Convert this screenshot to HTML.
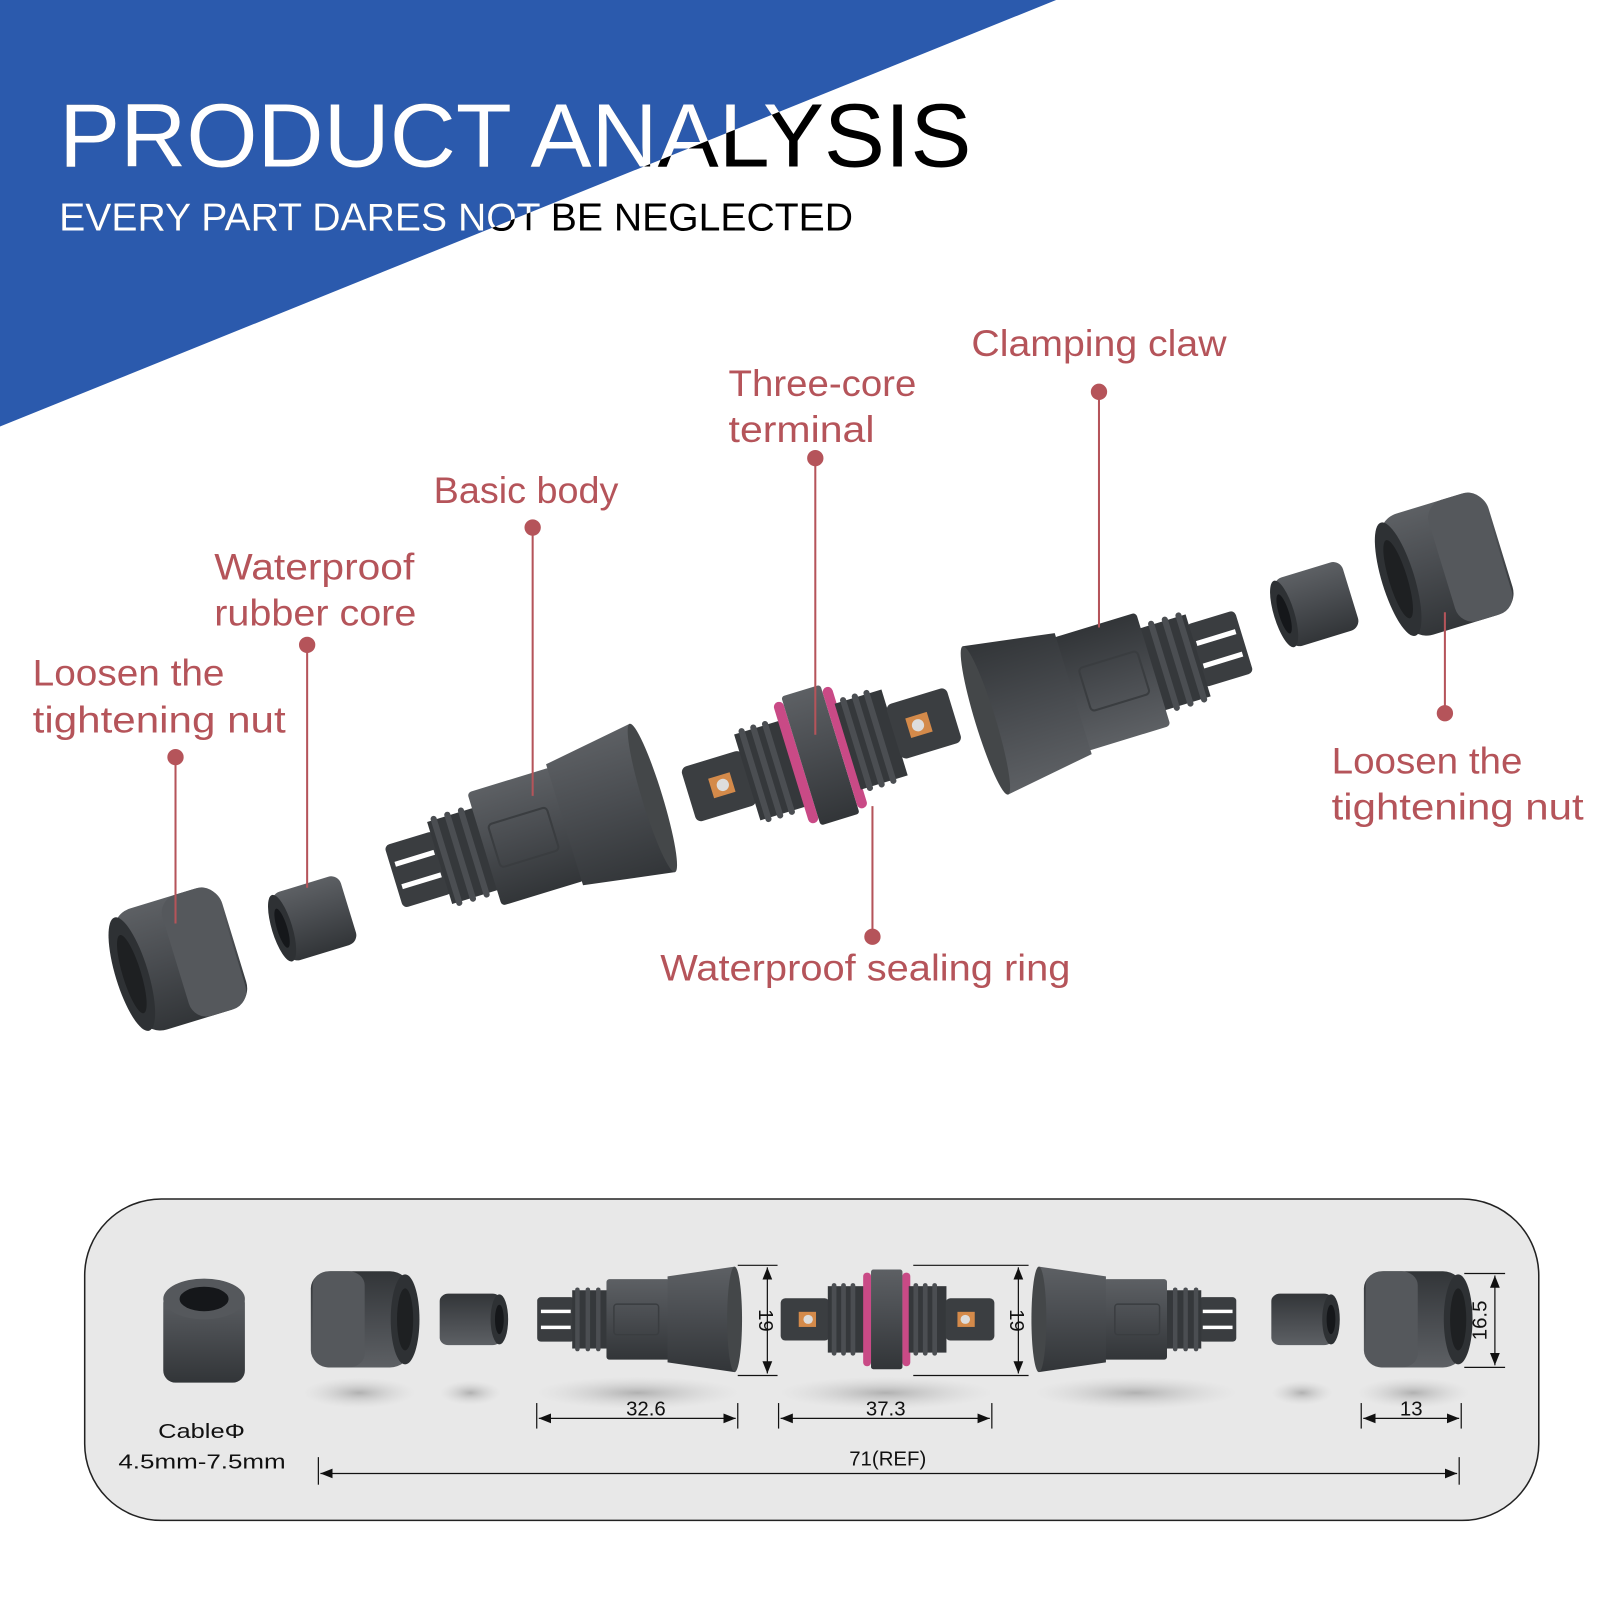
<!DOCTYPE html>
<html><head><meta charset="utf-8"><style>
html,body{margin:0;padding:0;background:#fff}
svg{display:block}
.lab{font-family:"Liberation Sans",sans-serif;font-size:36px;fill:#b5545a}
.dim{font-family:"Liberation Sans",sans-serif;font-size:20px;fill:#111}
</style></head><body>
<svg width="1600" height="1600" viewBox="0 0 1568 1568" xmlns="http://www.w3.org/2000/svg">
<defs>
<clipPath id="tri"><polygon points="0,0 1035,0 0,418"/></clipPath>
<linearGradient id="g" x1="0" y1="0" x2="0" y2="1"><stop offset="0" stop-color="#5d6064"/><stop offset="0.45" stop-color="#4a4d51"/><stop offset="1" stop-color="#323538"/></linearGradient>
<radialGradient id="sh"><stop offset="0" stop-color="#999" stop-opacity="0.7"/><stop offset="1" stop-color="#ccc" stop-opacity="0"/></radialGradient>
<marker id="ar" viewBox="0 0 10 10" refX="10" refY="5" markerWidth="10" markerHeight="10" orient="auto-start-reverse"><path d="M0,1 L10,5 L0,9 z" fill="#111"/></marker>
<g id="nut"><rect x="-55" y="-62" width="110" height="124" rx="22" fill="url(#g)"/><rect x="-5" y="-62" width="58" height="124" rx="18" fill="#55585c"/><ellipse cx="-50" cy="0" rx="16" ry="58" fill="#2e3134"/><ellipse cx="-50" cy="0" rx="9" ry="40" fill="#1e2022"/></g>
<g id="core"><rect x="-35" y="-35" width="70" height="70" rx="10" fill="url(#g)"/><ellipse cx="-33" cy="0" rx="10" ry="34" fill="#2e3134"/><ellipse cx="-33" cy="0" rx="5" ry="20" fill="#15171a"/></g>
<g id="body">
<rect x="-135" y="-32" width="50" height="64" rx="5" fill="#3a3d40"/>
<rect x="-130" y="-14" width="40" height="5" fill="#fff"/><rect x="-130" y="9" width="40" height="5" fill="#fff"/>
<rect x="-88" y="-42" width="48" height="84" fill="#35383b"/>
<rect x="-84" y="-46" width="6" height="92" rx="3" fill="#4b4e52"/><rect x="-70" y="-46" width="6" height="92" rx="3" fill="#4b4e52"/><rect x="-56" y="-46" width="6" height="92" rx="3" fill="#4b4e52"/>
<rect x="-42" y="-58" width="85" height="116" rx="4" fill="url(#g)"/>
<rect x="-32" y="-22" width="60" height="44" rx="4" fill="none" stroke="#3a3d40" stroke-width="2"/>
<path d="M40,-62 L130,-76 L130,76 L40,62 z" fill="url(#g)"/>
<ellipse cx="130" cy="0" rx="10" ry="76" fill="#444749"/>
</g>
<g id="term">
<rect x="-135" y="-28" width="62" height="56" rx="6" fill="#3b3e41"/>
<rect x="-112" y="-10" width="22" height="20" fill="#d48a4a"/><circle cx="-100" cy="0" r="6" fill="#ddd"/>
<rect x="-75" y="-44" width="48" height="88" fill="#35383b"/>
<rect x="-70" y="-48" width="6" height="96" rx="3" fill="#4b4e52"/><rect x="-58" y="-48" width="6" height="96" rx="3" fill="#4b4e52"/><rect x="-46" y="-48" width="6" height="96" rx="3" fill="#4b4e52"/>
<rect x="-30" y="-62" width="10" height="124" rx="5" fill="#c94a86"/>
<rect x="-20" y="-66" width="40" height="132" rx="3" fill="url(#g)"/>
<rect x="20" y="-62" width="10" height="124" rx="5" fill="#c94a86"/>
<rect x="28" y="-44" width="48" height="88" fill="#35383b"/>
<rect x="34" y="-48" width="6" height="96" rx="3" fill="#4b4e52"/><rect x="46" y="-48" width="6" height="96" rx="3" fill="#4b4e52"/><rect x="58" y="-48" width="6" height="96" rx="3" fill="#4b4e52"/>
<rect x="75" y="-28" width="62" height="56" rx="6" fill="#3b3e41"/>
<rect x="90" y="-10" width="22" height="20" fill="#d48a4a"/><circle cx="100" cy="0" r="6" fill="#ddd"/>
</g>
</defs>

<polygon points="0,0 1035,0 0,418" fill="#2b5aad"/>
<g font-family="Liberation Sans,sans-serif">
<text x="58" y="163" font-size="88" textLength="894" lengthAdjust="spacingAndGlyphs" fill="#000">PRODUCT ANALYSIS</text>
<text x="58" y="226" font-size="38" textLength="778" lengthAdjust="spacingAndGlyphs" fill="#000">EVERY PART DARES NOT BE NEGLECTED</text>
<g clip-path="url(#tri)" fill="#fff">
<text x="58" y="163" font-size="88" textLength="894" lengthAdjust="spacingAndGlyphs">PRODUCT ANALYSIS</text>
<text x="58" y="226" font-size="38" textLength="778" lengthAdjust="spacingAndGlyphs">EVERY PART DARES NOT BE NEGLECTED</text>
</g></g>

<use href="#nut" transform="translate(177,940) rotate(-17)"/>
<use href="#core" transform="translate(308,900) rotate(-17)"/>
<use href="#body" transform="translate(515,820) rotate(-17)"/>
<use href="#term" transform="translate(804,740) rotate(-17)"/>
<use href="#body" transform="translate(1090,668) rotate(163)"/>
<use href="#core" transform="translate(1290,592) rotate(-17)"/>
<use href="#nut" transform="translate(1418,553) rotate(-17)"/>

<g stroke="#b5545a" stroke-width="2">
<line x1="172" y1="742" x2="172" y2="905"/><line x1="301" y1="632" x2="301" y2="870"/>
<line x1="522" y1="517" x2="522" y2="780"/><line x1="799" y1="449" x2="799" y2="720"/>
<line x1="1077" y1="384" x2="1077" y2="615"/><line x1="1416" y1="699" x2="1416" y2="600"/>
<line x1="855" y1="918" x2="855" y2="790"/>
</g>
<g fill="#b5545a">
<circle cx="172" cy="742" r="8"/><circle cx="301" cy="632" r="8"/><circle cx="522" cy="517" r="8"/>
<circle cx="799" cy="449" r="8"/><circle cx="1077" cy="384" r="8"/><circle cx="1416" cy="699" r="8"/><circle cx="855" cy="918" r="8"/>
</g>
<g lengthAdjust="spacingAndGlyphs">
<text class="lab" x="32" y="672" textLength="188" lengthAdjust="spacingAndGlyphs">Loosen the</text><text class="lab" x="32" y="718" textLength="248" lengthAdjust="spacingAndGlyphs">tightening nut</text>
<text class="lab" x="210" y="568" textLength="196" lengthAdjust="spacingAndGlyphs">Waterproof</text><text class="lab" x="210" y="613" textLength="198" lengthAdjust="spacingAndGlyphs">rubber core</text>
<text class="lab" x="425" y="493" textLength="181" lengthAdjust="spacingAndGlyphs">Basic body</text>
<text class="lab" x="714" y="388" textLength="184" lengthAdjust="spacingAndGlyphs">Three-core</text><text class="lab" x="714" y="433" textLength="143" lengthAdjust="spacingAndGlyphs">terminal</text>
<text class="lab" x="952" y="349" textLength="250" lengthAdjust="spacingAndGlyphs">Clamping claw</text>
<text class="lab" x="1305" y="758" textLength="187" lengthAdjust="spacingAndGlyphs">Loosen the</text><text class="lab" x="1305" y="803" textLength="247" lengthAdjust="spacingAndGlyphs">tightening nut</text>
<text class="lab" x="647" y="961" textLength="402" lengthAdjust="spacingAndGlyphs">Waterproof sealing ring</text>
</g>

<rect x="83" y="1175" width="1425" height="315" rx="75" fill="#e8e8e8" stroke="#222" stroke-width="1.5"/>
<g>
<ellipse cx="352" cy="1365" rx="55" ry="15" fill="url(#sh)"/><ellipse cx="461" cy="1365" rx="30" ry="12" fill="url(#sh)"/>
<ellipse cx="625" cy="1365" rx="100" ry="16" fill="url(#sh)"/><ellipse cx="868" cy="1365" rx="105" ry="16" fill="url(#sh)"/>
<ellipse cx="1113" cy="1365" rx="100" ry="16" fill="url(#sh)"/><ellipse cx="1276" cy="1365" rx="30" ry="12" fill="url(#sh)"/>
<ellipse cx="1385" cy="1365" rx="55" ry="15" fill="url(#sh)"/>
</g>
<rect x="160" y="1265" width="80" height="90" rx="12" fill="url(#g)"/>
<ellipse cx="200" cy="1273" rx="40" ry="20" fill="#55585c"/><ellipse cx="200" cy="1273" rx="24" ry="12" fill="#15171a"/>
<use href="#nut" transform="translate(353,1293) scale(0.88,0.76) rotate(180)"/>
<use href="#core" transform="translate(461,1293) scale(0.86,0.72) rotate(180)"/>
<use href="#body" transform="translate(625,1293) scale(0.73,0.68)"/>
<use href="#term" transform="translate(869,1293) scale(0.77,0.74)"/>
<use href="#body" transform="translate(1113,1293) scale(-0.73,0.68)"/>
<use href="#core" transform="translate(1276,1293) scale(0.86,0.72) rotate(180)"/>
<use href="#nut" transform="translate(1385,1293) scale(0.88,0.76) rotate(180)"/>

<g stroke="#111" stroke-width="1.2" fill="none">
<line x1="723" y1="1240" x2="762" y2="1240"/><line x1="723" y1="1348" x2="762" y2="1348"/>
<line x1="752" y1="1242" x2="752" y2="1346" marker-start="url(#ar)" marker-end="url(#ar)"/>
<line x1="895" y1="1240" x2="1008" y2="1240"/><line x1="895" y1="1348" x2="1008" y2="1348"/>
<line x1="998" y1="1242" x2="998" y2="1346" marker-start="url(#ar)" marker-end="url(#ar)"/>
<line x1="1435" y1="1248" x2="1475" y2="1248"/><line x1="1435" y1="1340" x2="1475" y2="1340"/>
<line x1="1465" y1="1250" x2="1465" y2="1338" marker-start="url(#ar)" marker-end="url(#ar)"/>
<line x1="526" y1="1375" x2="526" y2="1400"/><line x1="723" y1="1375" x2="723" y2="1400"/>
<line x1="528" y1="1390" x2="721" y2="1390" marker-start="url(#ar)" marker-end="url(#ar)"/>
<line x1="763" y1="1375" x2="763" y2="1400"/><line x1="972" y1="1375" x2="972" y2="1400"/>
<line x1="765" y1="1390" x2="970" y2="1390" marker-start="url(#ar)" marker-end="url(#ar)"/>
<line x1="1334" y1="1375" x2="1334" y2="1400"/><line x1="1432" y1="1375" x2="1432" y2="1400"/>
<line x1="1336" y1="1390" x2="1430" y2="1390" marker-start="url(#ar)" marker-end="url(#ar)"/>
<line x1="312" y1="1428" x2="312" y2="1455"/><line x1="1430" y1="1428" x2="1430" y2="1455"/>
<line x1="314" y1="1444" x2="1428" y2="1444" marker-start="url(#ar)" marker-end="url(#ar)"/>
</g>
<text class="dim" transform="translate(744,1294) rotate(90)" text-anchor="middle">19</text>
<text class="dim" transform="translate(990,1294) rotate(90)" text-anchor="middle">19</text>
<text class="dim" transform="translate(1457,1294) rotate(-90)" text-anchor="middle">16.5</text>
<text class="dim" x="633" y="1387" text-anchor="middle">32.6</text>
<text class="dim" x="868" y="1387" text-anchor="middle">37.3</text>
<text class="dim" x="1383" y="1387" text-anchor="middle">13</text>
<text class="dim" x="870" y="1436" text-anchor="middle">71(REF)</text>
<text class="dim" x="155" y="1409" font-size="24" textLength="85" lengthAdjust="spacingAndGlyphs">CableΦ</text>
<text class="dim" x="116" y="1439" font-size="24" textLength="164" lengthAdjust="spacingAndGlyphs">4.5mm-7.5mm</text>
</svg>
</body></html>
